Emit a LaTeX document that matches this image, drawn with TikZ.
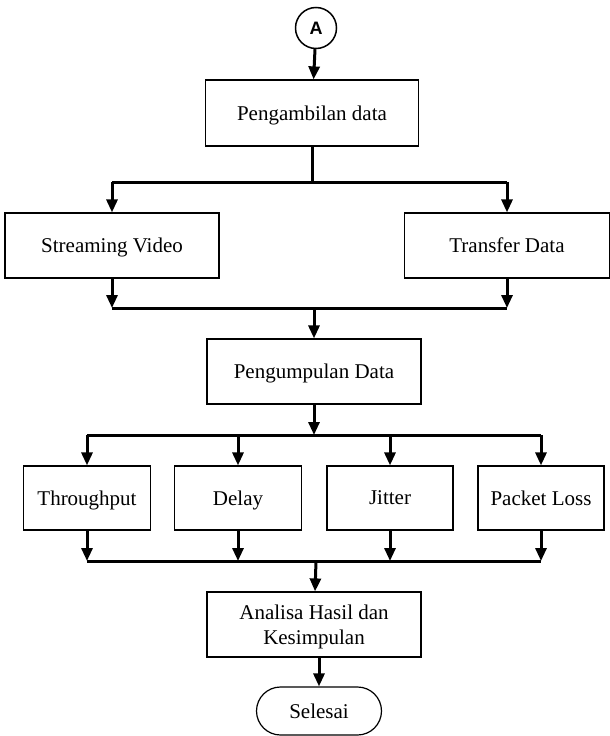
\documentclass[tikz,border=0pt]{standalone}
\usepackage{fontspec}
\setmainfont{Liberation Serif}
\newfontfamily\arialfont{Liberation Sans}
\usepackage{tikz}
\usetikzlibrary{arrows.meta,positioning,calc}

\begin{document}
\begin{tikzpicture}[x=1pt, y=-1pt,
  proses/.style={rectangle, draw, line width=1.2pt, minimum height=65pt, text depth=0pt,
                 font=\fontsize{21}{25}\selectfont, align=center, inner sep=0pt},
  konektor/.style={circle, draw, line width=1.5pt, minimum size=41pt, inner sep=0pt,
                 font=\arialfont\bfseries\fontsize{18}{21}\selectfont},
  terminal/.style={rectangle, rounded corners=24pt, draw, line width=1.2pt, text depth=0pt,
                 minimum width=125pt, minimum height=48pt, font=\fontsize{21}{25}\selectfont},
  garis/.style={line width=3pt},
  panah/.style={line width=3pt, -{Triangle[length=13pt,width=11pt]}}]
  \useasboundingbox (0,0) rectangle (610,736);

  \node[konektor] (a) at (316,28) {A};
  \node[proses, minimum width=213pt, minimum height=66pt] (ambil) at (312,113) {Pengambilan data};
  \node[proses, minimum width=214pt] (video) at (112,245.5) {Streaming Video};
  \node[proses, minimum width=205pt] (transfer) at (507,245.5) {Transfer Data};
  \node[proses, minimum width=214pt] (kumpul) at (314,371.5) {Pengumpulan Data};
  \node[proses, minimum width=127pt, minimum height=64pt] (throughput) at (87,498) {Throughput};
  \node[proses, minimum width=127pt, minimum height=64pt] (delay) at (238,498) {Delay};
  \node[proses, minimum width=126pt, minimum height=64pt] (jitter) at (390,498) {Jitter};
  \node[proses, minimum width=126pt, minimum height=64pt] (loss) at (541,498) {Packet Loss};
  \node[proses, minimum width=214pt] (analisa) at (314,624.5) {Analisa Hasil dan\\Kesimpulan};
  \node[terminal] (selesai) at (319,711) {Selesai};

  \coordinate (cabang1) at (312,182);
  \coordinate (gabung1) at (314,308);
  \coordinate (cabang2) at (314,435);
  \coordinate (gabung2) at (316,561);

  \draw[panah] (a) -- (ambil);
  \draw[garis] (ambil) -- (cabang1);
  \draw[garis] (video.north |- cabang1) -- (transfer.north |- cabang1);
  \draw[panah] (video.north |- cabang1) -- (video);
  \draw[panah] (transfer.north |- cabang1) -- (transfer);

  \draw[panah] (video) -- (video.south |- gabung1);
  \draw[panah] (transfer) -- (transfer.south |- gabung1);
  \draw[garis] (video.south |- gabung1) -- (transfer.south |- gabung1);
  \draw[panah] (gabung1) -- (kumpul);

  \draw[panah] (kumpul) -- (cabang2);
  \draw[garis] (throughput.north |- cabang2) -- (loss.north |- cabang2);
  \foreach \n in {throughput,delay,jitter,loss}
    \draw[panah] (\n.north |- cabang2) -- (\n);

  \foreach \n in {throughput,delay,jitter,loss}
    \draw[panah] (\n) -- (\n.south |- gabung2);
  \draw[garis] (throughput.south |- gabung2) -- (loss.south |- gabung2);
  \draw[panah] (gabung2) -- (analisa);
  \draw[panah] (analisa) -- (analisa.south -| selesai) -- (selesai);
\end{tikzpicture}
\end{document}
